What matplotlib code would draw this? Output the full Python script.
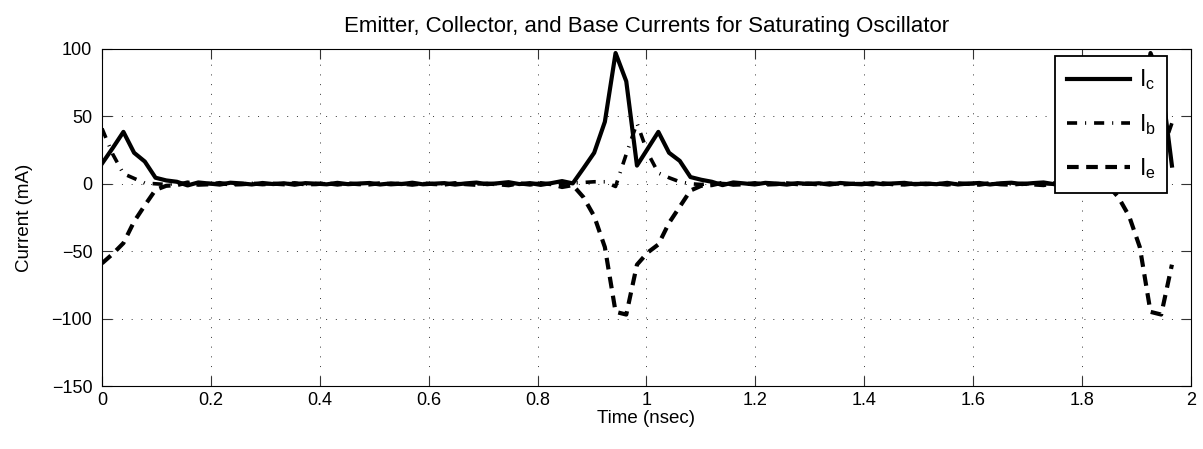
import numpy as np
import matplotlib
matplotlib.use("Agg")
import matplotlib.pyplot as plt

plt.rcParams['font.family'] = ['Liberation Sans', 'DejaVu Sans']
plt.rcParams['mathtext.fontset'] = 'custom'
plt.rcParams['mathtext.rm'] = 'Liberation Sans'

# ---- data ----
t_start, t_end, n_samples = 0.0, 1.965, 101

Ic = [15.0, 26.5, 38.5, 23.0, 16.5, 4.5, 2.5, 1.5, -1.2, 1.0,
      0.2, -0.6, 0.8, 0.3, -0.5, 0.6, -0.2, 0.4, -0.7, 0.5,
      0.1, -0.4, 0.7, -0.3, 0.2, 0.6, -0.5, 0.3, -0.2, 0.8,
      -0.4, 0.1, 0.5, -0.6, 0.3, 0.9, -0.3, 0.4, 1.2, -0.2,
      0.5, -0.8, 0.5, 2.0, 0.3, 11.5, 23.0, 46.0, 97.0, 76.0,
      13.5, 26.0, 38.5, 23.0, 17.0, 5.0, 3.0, 1.5, -1.0, 1.0,
      0.3, -0.5, 0.7, 0.2, -0.6, 0.5, -0.1, 0.4, -0.6, 0.6,
      0.0, -0.4, 0.6, -0.3, 0.3, 0.7, -0.4, 0.2, -0.3, 0.7,
      -0.5, 0.2, 0.6, -0.5, 0.4, 0.8, -0.2, 0.5, 1.0, -0.3,
      0.6, -0.7, 0.5, 2.0, 0.3, 11.5, 23.0, 46.0, 97.0, 76.0,
      13.5]

Ib = [41.0, 22.0, 7.5, 4.0, 0.5, 0.0, -0.5, 0.3, 0.2, -0.3,
      0.2, 0.0, -0.2, 0.1, 0.3, -0.2, 0.1, 0.0, 0.2, -0.1,
      0.2, 0.0, -0.1, 0.0, 0.1, -0.1, 0.1, 0.1, 0.1, -0.1,
      0.1, 0.1, 0.1, 0.1, 0.0, -0.1, 0.1, 0.0, -0.1, -0.1,
      0.1, 0.3, -0.2, 0.4, 0.7, 1.0, 1.5, 1.5, -2.0, 22.0,
      45.0, 23.0, 8.0, 4.5, 1.5, 0.0, -0.5, 0.3, 0.2, -0.3,
      0.1, 0.0, -0.1, 0.1, 0.2, -0.2, 0.1, 0.1, 0.2, -0.1,
      0.1, 0.1, -0.1, -0.1, 0.1, -0.1, 0.1, 0.1, 0.1, -0.1,
      0.1, -0.1, 0.1, 0.0, 0.0, -0.1, 0.1, 0.0, 0.0, -0.1,
      0.1, 0.3, -0.2, 0.4, 0.7, 1.0, 1.5, 1.5, -2.0, 22.0,
      45.0]

Ie = [-59.0, -52.0, -44.0, -28.0, -16.0, -4.5, -1.5, -1.0, 1.0, -0.7,
      -0.4, 0.6, -0.6, -0.4, 0.2, -0.4, 0.1, -0.4, 0.5, -0.4,
      -0.3, 0.4, -0.6, 0.3, -0.3, -0.5, 0.4, -0.4, 0.1, -0.7,
      0.3, -0.2, -0.6, 0.5, -0.3, -0.8, 0.2, -0.4, -1.1, 0.3,
      -0.6, 0.5, -0.3, -2.4, -1.0, -10.0, -24.0, -47.0, -95.0, -97.0,
      -60.0, -51.0, -45.0, -29.0, -17.0, -5.0, -1.5, -1.0, 0.8, -0.7,
      -0.4, 0.5, -0.6, -0.3, 0.4, -0.3, 0.2, -0.5, 0.4, -0.5,
      -0.1, 0.3, -0.5, 0.4, -0.4, -0.6, 0.3, -0.3, 0.2, -0.6,
      0.4, -0.1, -0.7, 0.5, -0.4, -0.7, 0.1, -0.5, -1.0, 0.4,
      -0.7, 0.4, -0.3, -2.4, -1.0, -10.0, -24.0, -47.0, -95.0, -97.0,
      -60.0]

labels = [r'$\mathregular{I_c}$', r'$\mathregular{I_b}$', r'$\mathregular{I_e}$']
xticks = [0, 0.2, 0.4, 0.6, 0.8, 1, 1.2, 1.4, 1.6, 1.8, 2]
xticklabels = ['0', '0.2', '0.4', '0.6', '0.8', '1', '1.2', '1.4', '1.6', '1.8', '2']
yticks = [-150, -100, -50, 0, 50, 100]

t = np.linspace(t_start, t_end, n_samples)

fig = plt.figure(figsize=(12.03, 4.49), dpi=100)
ax = fig.add_axes([0.0848, 0.1403, 0.9052, 0.7506])

lw = 3.0
ax.plot(t, Ic, color='black', linewidth=lw, linestyle='-', label=labels[0])
ax.plot(t, Ib, color='black', linewidth=2.6, dashes=(2.8, 2.2, 0.3, 2.2), label=labels[1])
ax.plot(t, Ie, color='black', linewidth=lw, dashes=(2.8, 1.8), label=labels[2])

ax.set_xlim(0, 2)
ax.set_ylim(-150, 100)
ax.set_xticks(xticks)
ax.set_xticklabels(xticklabels)
ax.set_yticks(yticks)
ax.tick_params(direction='in', top=True, right=True, length=7, width=0.8,
               labelsize=13, color='#333333', pad=4)
ax.tick_params(axis='y', pad=7)
ax.grid(True, color='#333333', linewidth=0.7, linestyle=(0, (1, 9)))
for s in ax.spines.values():
    s.set_linewidth(0.8)

ax.set_title('Emitter, Collector, and Base Currents for Saturating Oscillator',
             fontsize=16, pad=12)
ax.set_xlabel('Time (nsec)', fontsize=13.5, labelpad=1)
ax.set_ylabel('Current (mA)', fontsize=13.5, labelpad=13)

leg = ax.legend(loc='upper right', bbox_to_anchor=(0.978, 0.979), borderaxespad=0,
                fontsize=16.5, handlelength=2.75, handletextpad=0.4, labelspacing=0.85,
                fancybox=False, framealpha=1, edgecolor='black', borderpad=0.5)
leg.get_frame().set_linewidth(1.3)

fig.savefig('out.png', dpi=100)
